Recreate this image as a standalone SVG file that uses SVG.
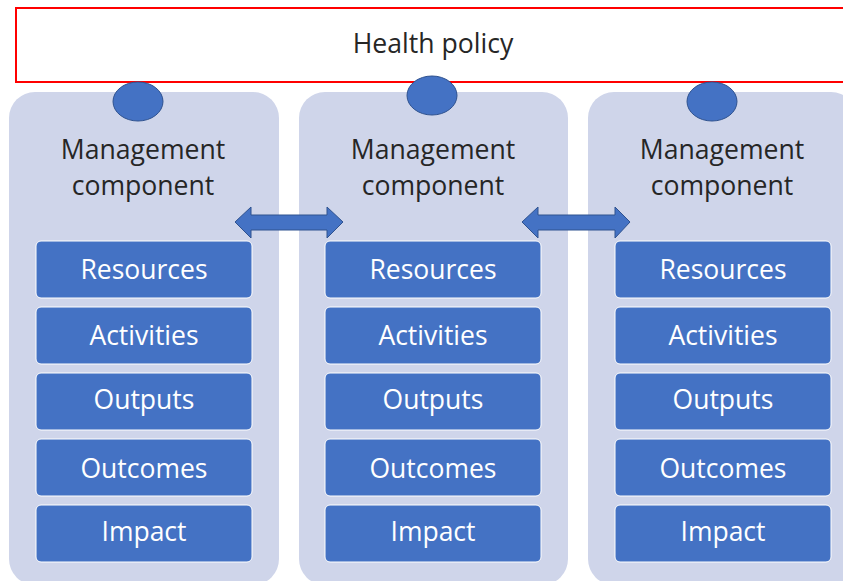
<svg xmlns="http://www.w3.org/2000/svg" width="843" height="581" viewBox="0 0 843 581">
  <style>
    .panel { fill: #CFD5EA; }
    .knob { fill: #4472C4; stroke: #2F528F; stroke-width: 1; }
    .box { fill: #4472C4; stroke: #FFFFFF; stroke-width: 1; }
    .title { font-family: "Open Sans", "Liberation Sans", sans-serif; font-size: 26.6px; fill: #262626; text-anchor: middle; }
    .label { font-family: "Open Sans", "Liberation Sans", sans-serif; font-size: 26.5px; fill: #FFFFFF; text-anchor: middle; }
    .link { fill: #4472C4; stroke: #2F528F; stroke-width: 1; }
  </style>
  <rect width="843" height="581" fill="#FFFFFF"/>

  <g id="health-policy">
    <rect x="16" y="8" width="840" height="74" fill="#FFFFFF" stroke="#FF0000" stroke-width="2"/>
    <text class="title" x="433" y="53">Health policy</text>
  </g>

  <g id="component-1">
    <rect class="panel" x="9" y="92" width="270" height="493" rx="26"/>
    <ellipse class="knob" cx="138" cy="101.5" rx="25" ry="19.5"/>
    <text class="title" x="143" y="159">Management</text>
    <text class="title" x="143" y="195">component</text>
    <rect class="box" x="36" y="241" width="216" height="57" rx="5"/>
    <text class="label" x="144" y="279">Resources</text>
    <rect class="box" x="36" y="307" width="216" height="57" rx="5"/>
    <text class="label" x="144" y="345">Activities</text>
    <rect class="box" x="36" y="373" width="216" height="57" rx="5"/>
    <text class="label" x="144" y="409">Outputs</text>
    <rect class="box" x="36" y="439" width="216" height="57" rx="5"/>
    <text class="label" x="144" y="478">Outcomes</text>
    <rect class="box" x="36" y="505" width="216" height="57" rx="5"/>
    <text class="label" x="144" y="541">Impact</text>
  </g>

  <g id="component-2">
    <rect class="panel" x="299" y="92" width="269" height="493" rx="26"/>
    <ellipse class="knob" cx="432" cy="95.5" rx="25" ry="19.5"/>
    <text class="title" x="433" y="159">Management</text>
    <text class="title" x="433" y="195">component</text>
    <rect class="box" x="325" y="241" width="216" height="57" rx="5"/>
    <text class="label" x="433" y="279">Resources</text>
    <rect class="box" x="325" y="307" width="216" height="57" rx="5"/>
    <text class="label" x="433" y="345">Activities</text>
    <rect class="box" x="325" y="373" width="216" height="57" rx="5"/>
    <text class="label" x="433" y="409">Outputs</text>
    <rect class="box" x="325" y="439" width="216" height="57" rx="5"/>
    <text class="label" x="433" y="478">Outcomes</text>
    <rect class="box" x="325" y="505" width="216" height="57" rx="5"/>
    <text class="label" x="433" y="541">Impact</text>
  </g>

  <g id="component-3">
    <rect class="panel" x="588" y="92" width="269" height="493" rx="26"/>
    <ellipse class="knob" cx="712" cy="101.5" rx="25" ry="19.5"/>
    <text class="title" x="722" y="159">Management</text>
    <text class="title" x="722" y="195">component</text>
    <rect class="box" x="615" y="241" width="216" height="57" rx="5"/>
    <text class="label" x="723" y="279">Resources</text>
    <rect class="box" x="615" y="307" width="216" height="57" rx="5"/>
    <text class="label" x="723" y="345">Activities</text>
    <rect class="box" x="615" y="373" width="216" height="57" rx="5"/>
    <text class="label" x="723" y="409">Outputs</text>
    <rect class="box" x="615" y="439" width="216" height="57" rx="5"/>
    <text class="label" x="723" y="478">Outcomes</text>
    <rect class="box" x="615" y="505" width="216" height="57" rx="5"/>
    <text class="label" x="723" y="541">Impact</text>
  </g>

  <g id="connectors">
    <!-- two-headed block arrows between neighbouring components -->
    <path class="link" d="M235,222 L251,207 L251,215 L327,215 L327,207 L343,222 L327,238 L327,230 L251,230 L251,238 Z"/>
    <path class="link" d="M522,222 L538,207 L538,215 L615,215 L615,207 L630,222 L615,238 L615,230 L538,230 L538,238 Z"/>
  </g>
</svg>
